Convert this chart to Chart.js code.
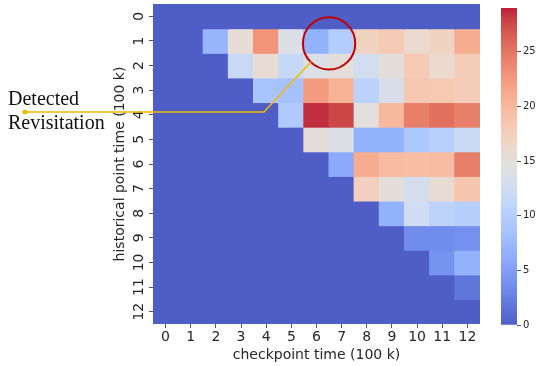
<!DOCTYPE html>
<html>
<head>
<meta charset="utf-8">
<script src="https://cdn.jsdelivr.net/npm/chart.js@4.4.1/dist/chart.umd.min.js"></script>
<style>
  body { margin: 0; background: #fff; }
  #wrap { position: relative; width: 542px; height: 366px; }
  #wrap canvas { position: absolute; left: 0; top: 0; }
</style>
</head>
<body>
<div id="wrap">
  <canvas id="heat" width="542" height="366"></canvas>
  <canvas id="bar" width="542" height="366"></canvas>
</div>
<script>
// checkpoint time on x, historical point time on y (units of 100 k)
const checkpoints = ["0", "1", "2", "3", "4", "5", "6", "7", "8", "9", "10", "11", "12"];
const historical = ["0", "1", "2", "3", "4", "5", "6", "7", "8", "9", "10", "11", "12"];
const colorbarTicks = [0, 5, 10, 15, 20, 25];
const vmax = 29;

// one row per historical point, one column per checkpoint
const row0 = [0, 0, 0, 0, 0, 0, 0, 0, 0, 0, 0, 0, 0];
const row1 = [0, 0, 7, 15.4, 23, 14, 6.7, 9.7, 17, 18, 16, 17, 21];
const row2 = [0, 0, 0, 11.7, 15.5, 11.6, 14, 15, 12.8, 15, 18, 16, 17.8];
const row3 = [0, 0, 0, 0, 8.7, 8.4, 22.4, 20.6, 10.5, 13.4, 18.3, 18.2, 17.8];
const row4 = [0, 0, 0, 0, 0, 9.4, 28.5, 27.7, 14.8, 20, 24.4, 25.4, 24.4];
const row5 = [0, 0, 0, 0, 0, 0, 15, 13.9, 6.7, 6.7, 9, 10.2, 11.9];
const row6 = [0, 0, 0, 0, 0, 0, 0, 6, 21, 19.7, 19.3, 19.6, 24.4];
const row7 = [0, 0, 0, 0, 0, 0, 0, 0, 17.4, 15, 13, 15.5, 18.6];
const row8 = [0, 0, 0, 0, 0, 0, 0, 0, 0, 6.7, 12.5, 10.7, 10];
const row9 = [0, 0, 0, 0, 0, 0, 0, 0, 0, 0, 3.5, 3.5, 3.8];
const row10 = [0, 0, 0, 0, 0, 0, 0, 0, 0, 0, 0, 4, 6.7];
const row11 = [0, 0, 0, 0, 0, 0, 0, 0, 0, 0, 0, 0, 1.8];
const row12 = [0, 0, 0, 0, 0, 0, 0, 0, 0, 0, 0, 0, 0];
const rows = [row0, row1, row2, row3, row4, row5, row6, row7, row8, row9, row10, row11, row12];

Chart.defaults.font.family = '"DejaVu Sans", sans-serif';
Chart.defaults.color = "#262626";

// coolwarm (Moreland) sampled at 33 points
const cw = [
  [59,76,192],[68,90,204],[77,104,215],[87,117,225],[98,130,234],[108,142,241],
  [119,154,247],[130,165,251],[141,176,254],[152,185,255],[163,194,255],[174,201,253],
  [184,208,249],[194,213,244],[204,217,238],[213,219,230],[221,221,221],[229,216,209],
  [236,211,197],[241,204,184],[245,196,172],[247,187,159],[247,177,147],[247,166,134],
  [244,154,123],[241,141,111],[236,127,99],[229,112,88],[222,96,77],[213,80,66],
  [203,62,56],[192,40,47],[180,4,38]
];
const alpha = 0.9;
function coolwarm(t) {
  t = Math.max(0, Math.min(1, t));
  const p = t * (cw.length - 1);
  const i = Math.min(Math.floor(p), cw.length - 2);
  const f = p - i;
  const c = [0, 1, 2].map(k => cw[i][k] + (cw[i + 1][k] - cw[i][k]) * f);
  const m = c.map(v => Math.round(v * alpha + 255 * (1 - alpha)));
  return "rgb(" + m.join(",") + ")";
}

const datasets = rows.map((r, i) => ({
  label: historical[i],
  data: checkpoints.map(() => 1),
  backgroundColor: r.map(v => coolwarm(v / vmax)),
  borderWidth: 0,
  inflateAmount: 0.6,
  barPercentage: 1,
  categoryPercentage: 1,
  stack: "cells"
}));

// rotated y tick labels + the "Detected Revisitation" callout
const callout = {
  id: "callout",
  afterDraw(chart) {
    const ctx = chart.ctx;
    const xs = chart.scales.x;
    const ys = chart.scales.y;

    ctx.save();
    ctx.font = '14px "DejaVu Sans"';
    ctx.fillStyle = "#262626";
    ctx.textAlign = "center";
    ctx.textBaseline = "middle";
    ys.ticks.forEach((t, i) => {
      ctx.save();
      ctx.translate(ys.right - 14, ys.getPixelForValue(t.value));
      ctx.rotate(-Math.PI / 2);
      ctx.fillText(historical[i], 0, 0);
      ctx.restore();
    });
    ctx.restore();

    // red circle
    const cx = (xs.getPixelForValue(6) + xs.getPixelForValue(7)) / 2;
    const cy = ys.getPixelForValue(1.6);
    const r = xs.getPixelForValue(1) - xs.getPixelForValue(0) + 1;
    ctx.save();
    ctx.strokeStyle = "#c00000";
    ctx.lineWidth = 2;
    ctx.beginPath();
    ctx.arc(cx, cy, r, 0, Math.PI * 2);
    ctx.stroke();

    // orange pointer
    const yLine = ys.getPixelForValue(4.39);
    ctx.strokeStyle = "#f5b800";
    ctx.fillStyle = "#f5b800";
    ctx.lineWidth = 1.5;
    ctx.beginPath();
    ctx.moveTo(25, yLine);
    ctx.lineTo(xs.getPixelForValue(3.91), yLine);
    ctx.lineTo(xs.getPixelForValue(5.78), ys.getPixelForValue(2.36));
    ctx.stroke();
    ctx.beginPath();
    ctx.arc(25, yLine, 2.5, 0, Math.PI * 2);
    ctx.fill();

    ctx.fillStyle = "#111";
    ctx.font = '20px "Liberation Serif"';
    ctx.textAlign = "left";
    ctx.textBaseline = "alphabetic";
    ctx.fillText("Detected", 8, 105);
    ctx.fillText("Revisitation", 8, 129);
    ctx.restore();
  }
};

new Chart(document.getElementById("heat"), {
  type: "bar",
  data: { labels: checkpoints, datasets: datasets },
  options: {
    responsive: false,
    animation: false,
    layout: { padding: { left: 112, right: 62, top: 4, bottom: 2 } },
    plugins: { legend: { display: false }, tooltip: { enabled: false } },
    scales: {
      x: {
        stacked: true,
        border: { display: false },
        grid: { offset: false, drawOnChartArea: false, tickLength: 4, color: "#555" },
        ticks: { font: { size: 14 }, padding: 1, maxRotation: 0 },
        title: { display: true, text: "checkpoint time (100 k)", font: { size: 14 }, padding: 0 },
        afterFit: s => { s.height = 40; }
      },
      y: {
        stacked: true,
        reverse: true,
        min: 0,
        max: 13,
        border: { display: false },
        grid: { drawOnChartArea: false, tickLength: 4, color: "#555" },
        ticks: { display: false },
        afterBuildTicks: s => { s.ticks = historical.map((h, i) => ({ value: i + 0.5 })); },
        title: { display: true, text: "historical point time (100 k)", font: { size: 14 }, padding: 0 },
        afterFit: s => { s.width = 41; }
      }
    }
  },
  plugins: [callout]
});

// colorbar
new Chart(document.getElementById("bar"), {
  type: "bar",
  data: {
    labels: ["scale"],
    datasets: [{
      data: [[0, vmax]],
      borderWidth: 0,
      barPercentage: 1,
      categoryPercentage: 1,
      backgroundColor: c => {
        const ch = c.chart;
        if (!ch.chartArea) return null;
        const ys = ch.scales.y;
        const g = ch.ctx.createLinearGradient(0, ys.getPixelForValue(0), 0, ys.getPixelForValue(vmax));
        for (let i = 0; i <= 32; i++) g.addColorStop(i / 32, coolwarm(i / 32));
        return g;
      }
    }]
  },
  options: {
    responsive: false,
    animation: false,
    layout: { padding: { left: 501, right: 0, top: 4, bottom: 41 } },
    plugins: { legend: { display: false }, tooltip: { enabled: false } },
    scales: {
      x: { display: false },
      y: {
        position: "right",
        min: 0,
        max: vmax,
        border: { display: false },
        grid: { drawOnChartArea: false, tickLength: 4, color: "#555" },
        afterBuildTicks: s => { s.ticks = colorbarTicks.map(v => ({ value: v })); },
        ticks: { font: { size: 10 }, padding: 2 },
        afterFit: s => { s.width = 25; }
      }
    }
  }
});
</script>
</body>
</html>
